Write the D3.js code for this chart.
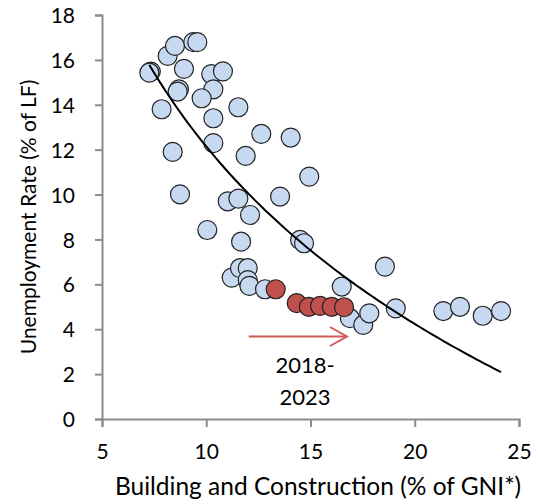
<!DOCTYPE html>
<html>
<head>
<meta charset="utf-8">
<script src="https://cdn.jsdelivr.net/npm/d3@7"></script>
<style>
  html, body { margin: 0; padding: 0; background: #fff; }
  svg { display: block; }
  text { font-family: "Lato", "Noto Sans", sans-serif; fill: #000; }
</style>
</head>
<body>
<svg id="chart" width="539" height="504"></svg>
<script>
// Building & construction share of GNI* (x) vs unemployment rate (y), earlier years
const histConstruction = [7.34, 7.27, 8.15, 8.50, 9.38, 9.57, 8.93, 7.86, 8.69, 8.63,
  10.24, 10.80, 10.34, 9.78, 10.34, 11.54, 12.64, 14.05, 8.39, 10.34,
  11.89, 14.94, 8.74, 11.03, 11.54, 13.54, 12.10, 10.05, 11.67, 14.50,
  14.69, 11.22, 11.62, 11.99, 11.99, 12.07, 12.82, 16.50, 16.89, 17.53,
  17.82, 18.57, 19.09, 21.37, 22.17, 23.26, 24.14];
const histUnemployment = [15.48, 15.43, 16.18, 16.62, 16.79, 16.79, 15.60, 13.80, 14.69, 14.59,
  15.37, 15.49, 14.69, 14.29, 13.40, 13.89, 12.70, 12.54, 11.90, 12.29,
  11.72, 10.80, 10.01, 9.70, 9.82, 9.91, 9.09, 8.42, 7.90, 7.98,
  7.83, 6.30, 6.72, 6.72, 6.19, 5.93, 5.78, 5.90, 4.49, 4.19,
  4.71, 6.79, 4.93, 4.81, 5.00, 4.60, 4.81];

// 2018-2023
const recentConstruction = [13.33, 14.34, 14.92, 15.46, 16.02, 16.61];
const recentUnemployment = [5.78, 5.16, 5.00, 5.04, 5.00, 4.98];

const xTicks = [5, 10, 15, 20, 25];
const yTicks = [0, 2, 4, 6, 8, 10, 12, 14, 16, 18];
const periodLabel = ["2018-", "2023"];

const svg = d3.select("#chart");
const x = d3.scaleLinear().domain([5, 25]).range([102, 519]);
const y = d3.scaleLinear().domain([0, 18]).range([419, 15]);

const axisColor = "#8c8c8c";

// Axes
const xAxis = svg.append("g")
  .attr("transform", `translate(0,${y(0)})`)
  .call(d3.axisBottom(x).tickValues(xTicks).tickSize(8).tickSizeOuter(8).tickPadding(13));
const yAxis = svg.append("g")
  .attr("transform", `translate(${x(5)},0)`)
  .call(d3.axisLeft(y).tickValues(yTicks).tickSize(7).tickSizeOuter(7).tickPadding(20));

[xAxis, yAxis].forEach(g => {
  g.select(".domain").attr("stroke", axisColor).attr("stroke-width", 2);
  g.selectAll(".tick line").attr("stroke", axisColor).attr("stroke-width", 2);
  g.selectAll(".tick text")
    .attr("font-family", "Lato, 'Noto Sans', sans-serif")
    .attr("font-size", 21).attr("fill", "#000");
});
xAxis.selectAll(".tick text").attr("dy", "0.9em");
yAxis.selectAll(".tick text").attr("dy", "0.36em");

// Scatter points
const hist = histConstruction.map((v, i) => [v, histUnemployment[i]]);
const recent = recentConstruction.map((v, i) => [v, recentUnemployment[i]]);

svg.append("g").selectAll("circle").data(hist).join("circle")
  .attr("cx", d => x(d[0])).attr("cy", d => y(d[1])).attr("r", 9.5)
  .attr("fill", "#c6d9f1").attr("stroke", "#222").attr("stroke-width", 1.2);

svg.append("g").selectAll("circle").data(recent).join("circle")
  .attr("cx", d => x(d[0])).attr("cy", d => y(d[1])).attr("r", 9.5)
  .attr("fill", "#c0504d").attr("stroke", "#222").attr("stroke-width", 1.2);

// Logarithmic trend line (least squares of y on ln x), over all points
const all = hist.concat(recent);
const lx = all.map(d => Math.log(d[0]));
const mx = d3.mean(lx), my = d3.mean(all, d => d[1]);
let sxy = 0, sxx = 0;
all.forEach((d, i) => { sxy += (lx[i] - mx) * (d[1] - my); sxx += (lx[i] - mx) ** 2; });
const b = sxy / sxx, a = my - b * mx;
const [xmin, xmax] = d3.extent(all, d => d[0]);
const trend = d3.range(0, 101).map(k => {
  const xv = xmin + (xmax - xmin) * k / 100;
  return [xv, a + b * Math.log(xv)];
});
svg.append("path").datum(trend)
  .attr("d", d3.line().x(d => x(d[0])).y(d => y(d[1])))
  .attr("fill", "none").attr("stroke", "#000").attr("stroke-width", 2);

// Arrow marking the 2018-2023 period
const arrowColor = "#cf5a56";
const arrowY = 336.5;
svg.append("line")
  .attr("x1", x(12.04)).attr("x2", x(16.75))
  .attr("y1", arrowY).attr("y2", arrowY)
  .attr("stroke", arrowColor).attr("stroke-width", 2);
svg.append("path")
  .attr("d", `M${x(16.75) - 17},${arrowY - 9.5} L${x(16.75)},${arrowY} L${x(16.75) - 17},${arrowY + 9.5}`)
  .attr("fill", "none").attr("stroke", arrowColor).attr("stroke-width", 2);

svg.append("g").selectAll("text").data(periodLabel).join("text")
  .attr("x", 305).attr("y", (d, i) => 373 + i * 32)
  .attr("text-anchor", "middle").attr("font-size", 22)
  .text(d => d);

// Axis titles
svg.append("text")
  .attr("x", 318).attr("y", 495)
  .attr("text-anchor", "middle").attr("font-size", 24.5)
  .text("Building and Construction (% of GNI*)");
svg.append("text")
  .attr("transform", "translate(36,217) rotate(-90)")
  .attr("text-anchor", "middle").attr("font-size", 21)
  .text("Unemployment Rate (% of LF)");
</script>
</body>
</html>
